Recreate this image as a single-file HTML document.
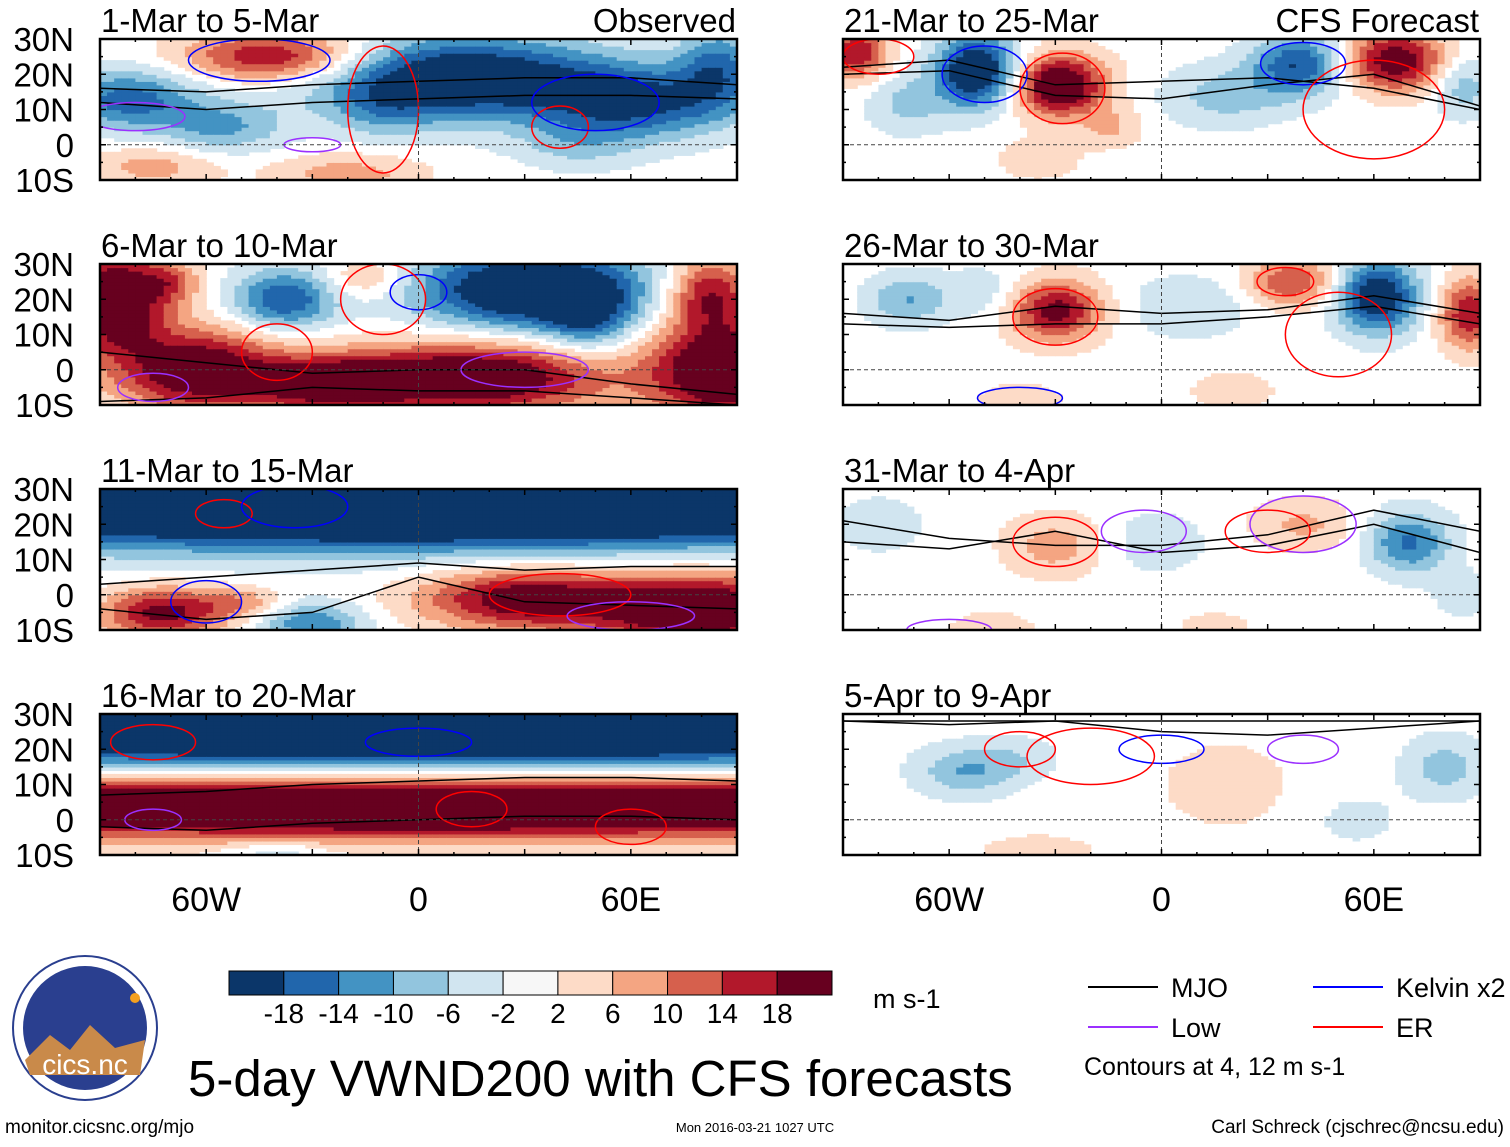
<!DOCTYPE html>
<html><head><meta charset="utf-8">
<style>
body{margin:0;background:#fff;font-family:"Liberation Sans",Arial,sans-serif;}
svg text{font-family:"Liberation Sans",Arial,sans-serif;}
</style></head>
<body>
<svg id="chart" width="1510" height="1142" viewBox="0 0 1510 1142" xmlns="http://www.w3.org/2000/svg">
<g id="panels"></g>
<g id="static"></g>
</svg>
<script>
// ---- data ----
const panelTitles = ["1-Mar to 5-Mar","6-Mar to 10-Mar","11-Mar to 15-Mar","16-Mar to 20-Mar","21-Mar to 25-Mar","26-Mar to 30-Mar","31-Mar to 4-Apr","5-Apr to 9-Apr"];
const latTicks = ["30N","20N","10N","0","10S"];
const latTickValues = [30,20,10,0,-10];
const lonTicks = ["60W","0","60E"];
const lonTickValues = [-60,0,60];
const levels = [-18,-14,-10,-6,-2,2,6,10,14,18];
const levelColors = ["#0b3669","#2166ac","#4393c3","#92c5de","#d1e5f0","#f7f7f7","#fddbc7","#f4a582","#d6604d","#b2182b","#67001f"];
// anomaly blobs per panel: [lon, lat, amplitude, lonRadius, latRadius]
const blobs1 = [[-40,25,20,18,5],[12,19,-26,28,8],[-82,13,-16,14,6],[62,12,-18,18,7],[-55,5,-10,12,5],[-20,-8,8,15,4],[85,22,-14,8,8],[-75,-6,8,12,4],[-10,10,-6,10,6],[45,0,-6,12,5]];
const blobs2 = [[-86,20,26,10,10],[-62,0,24,16,8],[-38,20,-18,10,6],[-15,26,8,8,4],[32,23,-28,22,8],[15,-2,26,26,7],[-25,-4,20,14,5],[86,0,26,14,10],[82,22,18,8,7],[48,15,-12,8,7],[-70,25,10,6,4]];
const blobs3 = [[0,25,-36,130,8],[-72,-5,20,12,5],[30,-1,22,20,6],[80,-4,26,20,7],[-30,-8,-14,10,4],[-50,-2,8,8,3]];
const blobs4 = [[0,27,-38,140,8],[0,4,32,150,6],[-40,-9,-6,10,2]];
const blobs5 = [[-52,21,-26,8,7],[-29,17,26,9,6],[-86,26,18,6,5],[39,23,-18,9,6],[66,24,22,10,6],[18,14,-8,12,6],[-72,12,-7,8,6],[85,17,-9,6,6],[-14,5,6,6,4],[-35,-4,5,8,4]];
const blobs6 = [[-30,17,20,9,6],[61,21,-24,8,7],[87,16,18,6,7],[37,25,14,9,5],[-72,20,-10,8,5],[8,18,-6,12,6],[-50,22,-5,8,5],[-40,-8,5,8,3],[20,-6,5,8,4]];
const blobs7 = [[70,15,-15,8,6],[-30,14,8,10,6],[-2,15,-5,10,6],[-48,-9,5,8,3],[40,20,7,10,5],[-80,20,-6,8,5],[15,-9,4,8,3],[85,0,-4,6,5]];
const blobs8 = [[-55,14,-10,10,5],[18,10,5,12,8],[80,15,-8,8,6],[-35,-9,6,10,3],[-40,18,-4,8,4],[55,0,-3,10,6]];
const panelBlobs = [blobs1,blobs2,blobs3,blobs4,blobs5,blobs6,blobs7,blobs8];
// MJO contour lines: latitude at lon = -90,-60,-30,0,30,60,90
const mjoLon = [-90,-60,-30,0,30,60,90];
const mjo1 = [[12,10,12,13,14,14,13],[16,15,17,18,19,19,17]];
const mjo2 = [[5,2,-1,0,0,-4,-7],[-9,-8,-5,-6,-6,-8,-10]];
const mjo3 = [[3,5,7,9,7,8,8],[-4,-7,-5,5,-2,-3,-4]];
const mjo4 = [[7,8,10,11,12,12,11],[-2,-3,-1,0,1,1,0]];
const mjo5 = [[22,24,17,18,19,16,10],[20,21,14,13,17,20,11]];
const mjo6 = [[13,12,13,13,15,18,13],[16,14,18,16,17,21,16]];
const mjo7 = [[15,13,18,12,14,20,12],[21,16,14,14,17,24,18]];
const mjo8 = [[28,27,28,25,24,26,28],[28,28,28,28,28,28,28]];
const panelMjo = [mjo1,mjo2,mjo3,mjo4,mjo5,mjo6,mjo7,mjo8];
// other contours as ellipses: [type, lon, lat, lonRadius, latRadius]
const panelRings = [
 [["kelvin",-45,24,20,6],["er",-10,10,10,18],["low",-30,0,8,2],["er",40,5,8,6],["kelvin",50,12,18,8],["low",-80,8,14,4]],
 [["kelvin",0,22,8,5],["er",-10,20,12,10],["low",30,0,18,5],["er",-40,5,10,8],["low",-75,-5,10,4]],
 [["er",-55,23,8,4],["kelvin",-35,25,15,6],["er",40,0,20,6],["kelvin",-60,-2,10,6],["low",60,-6,18,4]],
 [["er",-75,22,12,5],["kelvin",0,22,15,4],["er",15,3,10,5],["low",-75,0,8,3],["er",60,-2,10,5]],
 [["kelvin",-50,20,12,8],["er",-28,16,12,10],["er",-80,25,10,5],["kelvin",40,23,12,6],["er",60,10,20,14]],
 [["er",-30,15,12,8],["er",50,10,15,12],["kelvin",-40,-8,12,3],["er",35,25,8,4]],
 [["er",-30,15,12,7],["low",-5,18,12,6],["low",40,20,15,8],["er",30,18,12,6],["low",-60,-10,12,3]],
 [["er",-40,20,10,5],["kelvin",0,20,12,4],["low",40,20,10,4],["er",-20,18,18,8]]
];
const legendItems = [["MJO","#000"],["Low","#9b30ff"],["Kelvin x2","#0000ff"],["ER","#ff0000"]];

// ---- geometry ----
const NS = "http://www.w3.org/2000/svg";
const W = 637, H = 141;
const SPREAD = 1.45;
const leftX = [100,843], topY = [39,264,489,714];
function mk(tag, attrs, parent){const e=document.createElementNS(NS,tag);for(const k in attrs)e.setAttribute(k,attrs[k]);parent.appendChild(e);return e;}
function colorFor(v){let i=0;while(i<levels.length&&v>=levels[i])i++;return levelColors[i];}
const panelsG = document.getElementById('panels');
const ringColors = {mjo:"#000",low:"#9b30ff",kelvin:"#0000ff",er:"#ff0000"};

panelTitles.forEach((title, p) => {
  const col = p < 4 ? 0 : 1, row = p % 4;
  const x0 = leftX[col], y0 = topY[row];
  const xs = lon => x0 + (lon + 90) / 180 * W;
  const ys = lat => y0 + (30 - lat) / 40 * H;
  const g = mk('g', {}, panelsG);
  
  
  const clipId = 'clip' + p;
  const cp = mk('clipPath', {id: clipId}, g);
  mk('rect', {x:x0,y:y0,width:W,height:H}, cp);
  const field = mk('g', {'clip-path':'url(#'+clipId+')'}, g);
  
  
  const dLon = 2, dLat = 1;
  const bl = panelBlobs[p];
  for (let lon = -90; lon < 90; lon += dLon) {
    for (let lat = -10; lat < 30; lat += dLat) {
      const cl = lon + dLon/2, ct = lat + dLat/2;
      let v = 0;
      bl.forEach(b => { const dx=(cl-b[0])/(b[3]*SPREAD), dy=(ct-b[1])/(b[4]*SPREAD); v += b[2]*Math.exp(-(dx*dx+dy*dy)); });
      const c = colorFor(v);
      if (c === "#f7f7f7") continue;
      mk('rect', {x:xs(lon).toFixed(1), y:ys(lat+dLat).toFixed(1), width:(dLon/180*W+0.6).toFixed(2), height:(dLat/40*H+0.6).toFixed(2), fill:c}, field);
    }
  }
  panelMjo[p].forEach((line, i) => {
    const d = line.map((lat,j)=> (j?'L':'M') + xs(mjoLon[j]).toFixed(1)+','+ys(lat).toFixed(1)).join(' ');
    const pl = mk('path', {d:d, fill:'none', stroke:'#000', 'stroke-width':1.5}, field);
    
    
  });
  panelRings[p].forEach(r => {
    const el = mk('ellipse', {cx:xs(r[1]), cy:ys(r[2]), rx:r[3]/180*W, ry:r[4]/40*H, fill:'none', stroke:ringColors[r[0]], 'stroke-width':1.5}, field);
    
    
  });
  mk('line', {x1:x0,x2:x0+W,y1:ys(0),y2:ys(0),stroke:'#444','stroke-dasharray':'4,3','stroke-width':1}, g);
  mk('line', {x1:xs(0),x2:xs(0),y1:y0,y2:y0+H,stroke:'#444','stroke-dasharray':'4,3','stroke-width':1}, g);
  const fr = mk('rect', {x:x0,y:y0,width:W,height:H,fill:'none',stroke:'#000','stroke-width':2.5}, g);
  
  
  for (let lon=-90; lon<=90; lon+=10){const t=lon%30===0?6:3;mk('line',{x1:xs(lon),x2:xs(lon),y1:y0,y2:y0+t,stroke:'#000','stroke-width':1.5},g);mk('line',{x1:xs(lon),x2:xs(lon),y1:y0+H,y2:y0+H-t,stroke:'#000','stroke-width':1.5},g);}
  for (let lat=-10; lat<=30; lat+=5){const t=lat%10===0?6:3;mk('line',{x1:x0,x2:x0+t,y1:ys(lat),y2:ys(lat),stroke:'#000','stroke-width':1.5},g);mk('line',{x1:x0+W,x2:x0+W-t,y1:ys(lat),y2:ys(lat),stroke:'#000','stroke-width':1.5},g);}
  const tt = mk('text', {x:x0+1, y:y0-7, 'font-size':33, fill:'#000'}, g);
  tt.textContent = title;
  
  
  if (p===0 || p===4) {
    const lab = mk('text', {x:x0+W-1, y:y0-7, 'font-size':33, 'text-anchor':'end'}, g);
    lab.textContent = p===0 ? 'Observed' : 'CFS Forecast';
    
    
  }
  if (col===0) {
    latTicks.forEach((t,i)=>{
      const lt = mk('text',{x:74,y:ys(latTickValues[i])+12,'font-size':33,'text-anchor':'end'},g);
      lt.textContent=t;
      
      
    });
  }
  if (row===3) {
    lonTicks.forEach((t,i)=>{
      const lt = mk('text',{x:xs(lonTickValues[i]),y:911,'font-size':34,'text-anchor':'middle'},g);
      lt.textContent=t;
      
      
    });
  }
});

// ---- colorbar & legend ----
const st = document.getElementById('static');
const cb = mk('g',{},st);


const cbx=229, cbw=603/11;
levelColors.forEach((c,i)=>{
  const r = mk('rect',{x:cbx+i*cbw,y:971,width:cbw,height:24,fill:c,stroke:'#000','stroke-width':1},cb);
  
  
});
levels.forEach((l,i)=>{
  const t = mk('text',{x:cbx+(i+1)*cbw,y:1023,'font-size':28,'text-anchor':'middle'},cb);
  t.textContent=l;
  
  
});
const un = mk('text',{x:873,y:1008,'font-size':27},st);
un.textContent='m s-1';


const legPos=[[1088,987],[1088,1027],[1313,987],[1313,1027]];
legendItems.forEach((it,i)=>{
  const g=mk('g',{},st);
  
  
  mk('line',{x1:legPos[i][0],x2:legPos[i][0]+70,y1:legPos[i][1],y2:legPos[i][1],stroke:it[1],'stroke-width':2},g);
  const t=mk('text',{x:legPos[i][0]+83,y:legPos[i][1]+10,'font-size':27},g);
  t.textContent=it[0];
});
const ct=mk('text',{x:1084,y:1075,'font-size':25},st);
ct.textContent='Contours at 4, 12 m s-1';


const ti=mk('text',{x:188,y:1096,'font-size':51},st);
ti.textContent='5-day VWND200 with CFS forecasts';


const f1=mk('text',{x:5,y:1133,'font-size':19},st);
f1.textContent='monitor.cicsnc.org/mjo';


const f2=mk('text',{x:755,y:1132,'font-size':13,'text-anchor':'middle'},st);
f2.textContent='Mon 2016-03-21 1027 UTC';


const f3=mk('text',{x:1504,y:1133,'font-size':19,'text-anchor':'end'},st);
f3.textContent='Carl Schreck (cjschrec@ncsu.edu)';


const lg=mk('g',{},st);


mk('circle',{cx:85,cy:1028,r:72,fill:'#fff',stroke:'#2a3f8f','stroke-width':2},lg);
mk('circle',{cx:85,cy:1028,r:62,fill:'#2a3f8f'},lg);
mk('path',{d:'M25,1060 L50,1035 L70,1050 L90,1025 L115,1048 L145,1040 L140,1075 L30,1075 Z',fill:'#c98a4a'},lg);
mk('circle',{cx:135,cy:998,r:5,fill:'#f4a020'},lg);
const lt=mk('text',{x:85,y:1074,'font-size':28,'text-anchor':'middle',fill:'#fff'},lg);
lt.textContent='cics.nc';
</script>
</body></html>
